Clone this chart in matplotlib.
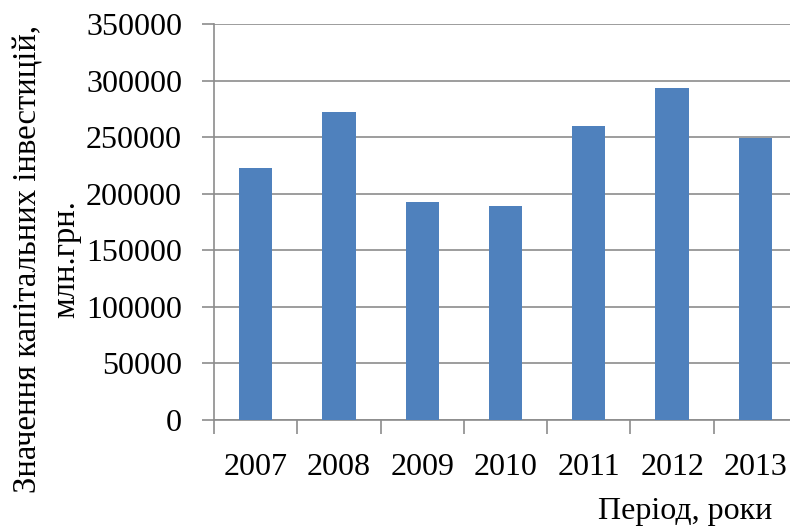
import numpy as np
import matplotlib
matplotlib.use('Agg')
import matplotlib.pyplot as plt

# Capital investment by year, mln UAH
years = ['2007', '2008', '2009', '2010', '2011', '2012', '2013']
values = [222679, 272074, 192878, 189061, 259932, 293692, 248873]
y_ticks = [0, 50000, 100000, 150000, 200000, 250000, 300000, 350000]

plt.rcParams['font.family'] = ['Liberation Serif', 'DejaVu Serif']

fig = plt.figure(figsize=(7.9, 5.29), dpi=100)
W, H = 790, 529
ax = fig.add_axes([214 / W, 1 - 420 / H, 583 / W, (420 - 24) / H])

x = np.arange(len(years))
ax.bar(x, values, width=0.4, color='#4F81BD', zorder=3)

ax.set_xlim(-0.5, len(years) - 0.5)
ax.set_ylim(0, 350000)
ax.set_yticks(y_ticks)
ax.set_yticklabels([str(v) for v in y_ticks], fontsize=23)

ax.grid(axis='y', color='#8c8c8c', linewidth=1.2, zorder=0)
ax.set_axisbelow(True)
for s in ['top', 'right']:
    ax.spines[s].set_visible(False)
for s in ['left', 'bottom']:
    ax.spines[s].set_color('#8c8c8c')
    ax.spines[s].set_linewidth(1.2)

ax.tick_params(axis='y', length=9, width=1.2, color='#8c8c8c', pad=14)

# category labels centered, tick marks at boundaries
ax.set_xticks(x)
ax.set_xticklabels(years, fontsize=23)
ax.tick_params(axis='x', which='major', length=0, pad=24)
ax.set_xticks(np.arange(len(years) + 1) - 0.5, minor=True)
ax.tick_params(axis='x', which='minor', length=10, width=1.2, color='#8c8c8c')

fig.text(28 / W, 1 - 259 / H, 'Значення капітальних інвестицій,', rotation=90,
         ha='center', va='center', fontsize=23.5)
fig.text(66 / W, 1 - 259 / H, 'млн.грн.', rotation=90,
         ha='center', va='center', fontsize=23.5)
fig.text(772 / W, 1 - 512 / H, 'Період, роки', ha='right', va='center', fontsize=23)

fig.savefig('out.png', dpi=100)
